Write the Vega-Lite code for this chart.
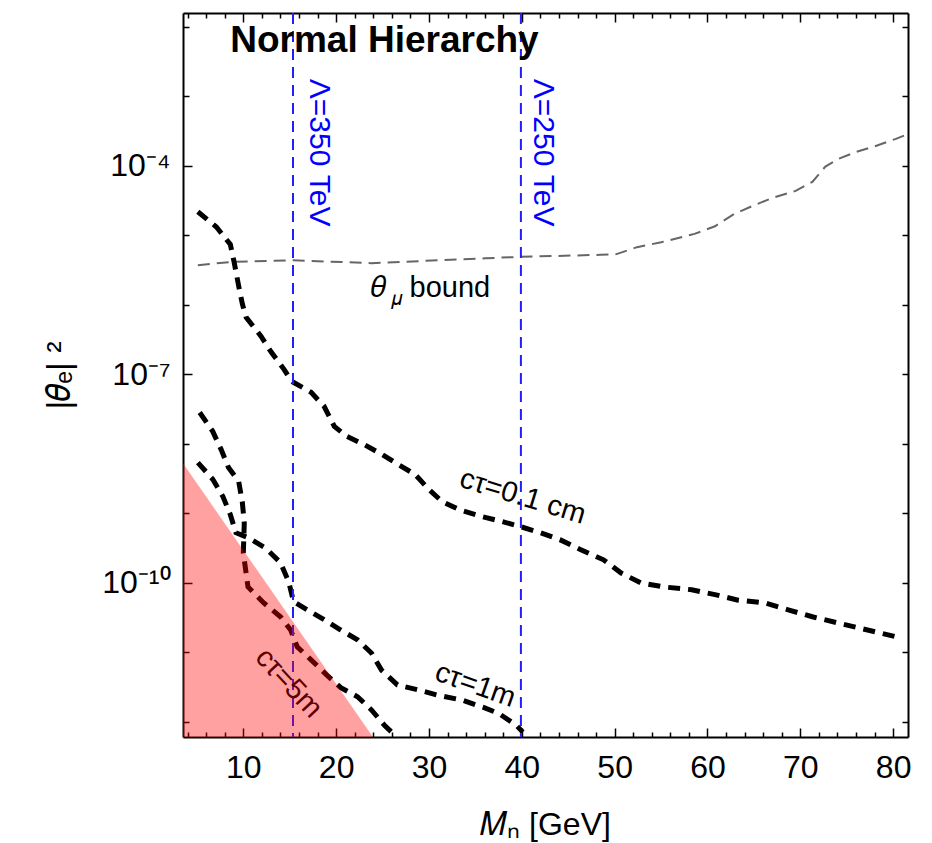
{
  "$schema": "https://vega.github.io/schema/vega-lite/v6.json",
  "autosize": {"type": "none"},
  "padding": {"left": 183, "top": 13, "right": 24, "bottom": 106},
  "width": 725,
  "height": 724,
  "background": "white",
  "config": {
    "view": {"stroke": null},
    "font": "Liberation Sans",
    "axis": {
      "domainColor": "black",
      "domainWidth": 2,
      "tickColor": "black",
      "tickWidth": 1.5,
      "grid": false,
      "labelFont": "Liberation Sans",
      "labelColor": "black",
      "titleFont": "Liberation Sans",
      "titleColor": "black",
      "titleFontWeight": "normal"
    }
  },
  "datasets": {
    "theta": [
      {"x": 5.1, "y": 3.72e-6}, {"x": 8.9, "y": 4.17e-6}, {"x": 15.4, "y": 4.37e-6},
      {"x": 23.8, "y": 3.98e-6}, {"x": 36.1, "y": 4.68e-6}, {"x": 39.8, "y": 4.90e-6},
      {"x": 48.5, "y": 5.25e-6}, {"x": 50.2, "y": 5.37e-6}, {"x": 52.4, "y": 6.76e-6},
      {"x": 55.0, "y": 7.94e-6}, {"x": 58.6, "y": 1.05e-5}, {"x": 60.8, "y": 1.35e-5},
      {"x": 62.9, "y": 2.04e-5}, {"x": 64.8, "y": 2.63e-5}, {"x": 67.0, "y": 3.47e-5},
      {"x": 69.5, "y": 4.37e-5}, {"x": 71.3, "y": 5.89e-5}, {"x": 72.7, "y": 9.77e-5},
      {"x": 74.1, "y": 1.26e-4}, {"x": 76.0, "y": 1.585e-4}, {"x": 78.2, "y": 1.95e-4},
      {"x": 80.3, "y": 2.45e-4}, {"x": 81.6, "y": 2.88e-4}
    ],
    "curves": [
      {"series": "0.1cm", "i": 1, "x": 5.1, "y": 2.19e-5},
      {"series": "0.1cm", "i": 2, "x": 7.1, "y": 1.32e-5},
      {"series": "0.1cm", "i": 3, "x": 8.6, "y": 7.41e-6},
      {"series": "0.1cm", "i": 4, "x": 9.0, "y": 4.17e-6},
      {"series": "0.1cm", "i": 5, "x": 9.5, "y": 1.86e-6},
      {"series": "0.1cm", "i": 6, "x": 9.9, "y": 1.02e-6},
      {"series": "0.1cm", "i": 7, "x": 10.3, "y": 6.61e-7},
      {"series": "0.1cm", "i": 8, "x": 11.9, "y": 3.55e-7},
      {"series": "0.1cm", "i": 9, "x": 13.0, "y": 2.09e-7},
      {"series": "0.1cm", "i": 10, "x": 14.4, "y": 1.17e-7},
      {"series": "0.1cm", "i": 11, "x": 15.2, "y": 7.94e-8},
      {"series": "0.1cm", "i": 12, "x": 17.3, "y": 5.50e-8},
      {"series": "0.1cm", "i": 13, "x": 18.7, "y": 3.47e-8},
      {"series": "0.1cm", "i": 14, "x": 19.8, "y": 1.78e-8},
      {"series": "0.1cm", "i": 15, "x": 21.1, "y": 1.29e-8},
      {"series": "0.1cm", "i": 16, "x": 23.0, "y": 9.77e-9},
      {"series": "0.1cm", "i": 17, "x": 24.9, "y": 7.08e-9},
      {"series": "0.1cm", "i": 18, "x": 26.7, "y": 5.01e-9},
      {"series": "0.1cm", "i": 19, "x": 28.5, "y": 3.63e-9},
      {"series": "0.1cm", "i": 20, "x": 30.0, "y": 2.19e-9},
      {"series": "0.1cm", "i": 21, "x": 31.4, "y": 1.48e-9},
      {"series": "0.1cm", "i": 22, "x": 33.3, "y": 1.12e-9},
      {"series": "0.1cm", "i": 23, "x": 35.8, "y": 8.91e-10},
      {"series": "0.1cm", "i": 24, "x": 37.9, "y": 7.59e-10},
      {"series": "0.1cm", "i": 25, "x": 39.8, "y": 6.46e-10},
      {"series": "0.1cm", "i": 26, "x": 42.0, "y": 5.25e-10},
      {"series": "0.1cm", "i": 27, "x": 44.1, "y": 4.17e-10},
      {"series": "0.1cm", "i": 28, "x": 46.3, "y": 3.02e-10},
      {"series": "0.1cm", "i": 29, "x": 48.8, "y": 2.14e-10},
      {"series": "0.1cm", "i": 30, "x": 50.7, "y": 1.38e-10},
      {"series": "0.1cm", "i": 31, "x": 52.8, "y": 1.0e-10},
      {"series": "0.1cm", "i": 32, "x": 55.3, "y": 8.71e-11},
      {"series": "0.1cm", "i": 33, "x": 58.3, "y": 7.94e-11},
      {"series": "0.1cm", "i": 34, "x": 60.8, "y": 6.76e-11},
      {"series": "0.1cm", "i": 35, "x": 63.3, "y": 5.62e-11},
      {"series": "0.1cm", "i": 36, "x": 66.2, "y": 5.13e-11},
      {"series": "0.1cm", "i": 37, "x": 68.7, "y": 4.07e-11},
      {"series": "0.1cm", "i": 38, "x": 71.3, "y": 3.24e-11},
      {"series": "0.1cm", "i": 39, "x": 74.1, "y": 2.63e-11},
      {"series": "0.1cm", "i": 40, "x": 76.3, "y": 2.24e-11},
      {"series": "0.1cm", "i": 41, "x": 78.5, "y": 1.91e-11},
      {"series": "0.1cm", "i": 42, "x": 80.7, "y": 1.62e-11},
      {"series": "1m", "i": 1, "x": 5.1, "y": 5.37e-9},
      {"series": "1m", "i": 2, "x": 6.7, "y": 3.09e-9},
      {"series": "1m", "i": 3, "x": 7.8, "y": 1.74e-9},
      {"series": "1m", "i": 4, "x": 8.6, "y": 9.55e-10},
      {"series": "1m", "i": 5, "x": 9.2, "y": 5.25e-10},
      {"series": "1m", "i": 6, "x": 10.5, "y": 4.47e-10},
      {"series": "1m", "i": 7, "x": 12.4, "y": 3.16e-10},
      {"series": "1m", "i": 8, "x": 14.0, "y": 1.95e-10},
      {"series": "1m", "i": 9, "x": 14.9, "y": 1.02e-10},
      {"series": "1m", "i": 10, "x": 15.4, "y": 5.37e-11},
      {"series": "1m", "i": 11, "x": 16.9, "y": 4.07e-11},
      {"series": "1m", "i": 12, "x": 18.7, "y": 2.95e-11},
      {"series": "1m", "i": 13, "x": 20.5, "y": 2.09e-11},
      {"series": "1m", "i": 14, "x": 22.3, "y": 1.51e-11},
      {"series": "1m", "i": 15, "x": 23.8, "y": 9.77e-12},
      {"series": "1m", "i": 16, "x": 24.9, "y": 5.50e-12},
      {"series": "1m", "i": 17, "x": 26.6, "y": 3.39e-12},
      {"series": "1m", "i": 18, "x": 28.8, "y": 2.88e-12},
      {"series": "1m", "i": 19, "x": 31.0, "y": 2.40e-12},
      {"series": "1m", "i": 20, "x": 33.6, "y": 2.04e-12},
      {"series": "1m", "i": 21, "x": 35.8, "y": 1.62e-12},
      {"series": "1m", "i": 22, "x": 37.5, "y": 1.32e-12},
      {"series": "1m", "i": 23, "x": 39.4, "y": 8.91e-13},
      {"series": "1m", "i": 24, "x": 40.1, "y": 7.08e-13},
      {"series": "5m", "i": 1, "x": 5.3, "y": 2.82e-8},
      {"series": "5m", "i": 2, "x": 6.7, "y": 1.51e-8},
      {"series": "5m", "i": 3, "x": 7.6, "y": 8.32e-9},
      {"series": "5m", "i": 4, "x": 8.4, "y": 4.57e-9},
      {"series": "5m", "i": 5, "x": 9.5, "y": 2.88e-9},
      {"series": "5m", "i": 6, "x": 9.9, "y": 1.41e-9},
      {"series": "5m", "i": 7, "x": 10.1, "y": 7.24e-10},
      {"series": "5m", "i": 8, "x": 10.0, "y": 2.69e-10},
      {"series": "5m", "i": 9, "x": 10.5, "y": 8.71e-11},
      {"series": "5m", "i": 10, "x": 12.2, "y": 5.13e-11},
      {"series": "5m", "i": 11, "x": 14.0, "y": 3.24e-11},
      {"series": "5m", "i": 12, "x": 15.1, "y": 2.09e-11},
      {"series": "5m", "i": 13, "x": 15.8, "y": 1.20e-11},
      {"series": "5m", "i": 14, "x": 17.3, "y": 7.76e-12},
      {"series": "5m", "i": 15, "x": 19.0, "y": 4.68e-12},
      {"series": "5m", "i": 16, "x": 20.5, "y": 3.09e-12},
      {"series": "5m", "i": 17, "x": 22.3, "y": 2.29e-12},
      {"series": "5m", "i": 18, "x": 23.8, "y": 1.48e-12},
      {"series": "5m", "i": 19, "x": 25.2, "y": 8.91e-13},
      {"series": "5m", "i": 20, "x": 26.3, "y": 6.46e-13}
    ],
    "lambda": [
      {"x": 15.35, "label": "Λ=350 TeV", "ly": 1.55e-4, "lx": 18.15},
      {"x": 39.9, "label": "Λ=250 TeV", "ly": 1.55e-4, "lx": 42.3}
    ],
    "ctau": [
      {"label": "cτ=0.1 cm", "x": 40.1, "y": 1.74e-9, "angle": 17},
      {"label": "cτ=1m", "x": 35.0, "y": 3.39e-12, "angle": 19.5},
      {"label": "cτ=5m", "x": 14.9, "y": 3.63e-12, "angle": 47}
    ],
    "region": [
      {"x": 3.5, "y": 5.25e-9, "y2": 6.03e-13},
      {"x": 23.96, "y": 6.03e-13, "y2": 6.03e-13}
    ]
  },
  "resolve": {"axis": {"x": "independent", "y": "independent"}},
  "layer": [
    {
      "data": {"name": "theta"},
      "mark": {"type": "line", "color": "#666666", "strokeWidth": 2, "strokeDash": [12, 7], "clip": true},
      "encoding": {
        "x": {
          "field": "x", "type": "quantitative",
          "scale": {"domain": [3.5, 81.6], "nice": false, "zero": false},
          "axis": {
            "orient": "bottom",
            "values": [4, 6, 8, 10, 12, 14, 16, 18, 20, 22, 24, 26, 28, 30, 32, 34, 36, 38, 40, 42, 44, 46, 48, 50, 52, 54, 56, 58, 60, 62, 64, 66, 68, 70, 72, 74, 76, 78, 80],
            "labelExpr": "datum.value % 10 === 0 ? datum.value : ''",
            "tickSize": {"condition": {"test": "datum.value % 10 === 0", "value": -9}, "value": -5},
            "labelFontSize": 32,
            "labelPadding": 24,
            "labelFlush": false,
            "labelOverlap": false,
            "title": "𝑀ₙ [GeV]",
            "titleFontSize": 32,
            "titleX": 362,
            "titleY": 97,
            "titleBaseline": "alphabetic",
            "titleAlign": "center"
          }
        },
        "y": {
          "field": "y", "type": "quantitative",
          "scale": {"type": "log", "domain": [6.03e-13, 0.01585], "nice": false},
          "axis": {
            "orient": "left",
            "values": [1e-12, 1e-11, 1e-10, 1e-9, 1e-8, 1e-7, 1e-6, 1e-5, 1e-4, 1e-3, 1e-2],
            "labelExpr": "datum.value > 5e-5 && datum.value < 2e-4 ? '10⁻⁴' : datum.value > 5e-8 && datum.value < 2e-7 ? '10⁻⁷' : datum.value > 5e-11 && datum.value < 2e-10 ? '10⁻¹⁰' : ''",
            "tickSize": {"condition": {"test": "(datum.value > 5e-5 && datum.value < 2e-4) || (datum.value > 5e-8 && datum.value < 2e-7) || (datum.value > 5e-11 && datum.value < 2e-10)", "value": -9}, "value": -6},
            "labelFontSize": 32,
            "labelPadding": 22,
            "labelOverlap": false,
            "labelFlush": false,
            "title": "|𝜃ₑ| ²",
            "titleFontSize": 34,
            "titleAngle": -90,
            "titleX": -114,
            "titleY": 362,
            "titleBaseline": "alphabetic",
            "titleAlign": "center"
          }
        }
      }
    },
    {
      "data": {"name": "curves"},
      "mark": {"type": "line", "color": "black", "strokeWidth": 5, "strokeDash": [12, 8], "strokeCap": "butt", "clip": true},
      "encoding": {
        "x": {
          "field": "x", "type": "quantitative",
          "axis": {
            "orient": "top",
            "values": [4, 6, 8, 10, 12, 14, 16, 18, 20, 22, 24, 26, 28, 30, 32, 34, 36, 38, 40, 42, 44, 46, 48, 50, 52, 54, 56, 58, 60, 62, 64, 66, 68, 70, 72, 74, 76, 78, 80],
            "labels": false,
            "title": null,
            "tickSize": {"condition": {"test": "datum.value % 10 === 0", "value": -9}, "value": -5}
          }
        },
        "y": {
          "field": "y", "type": "quantitative",
          "axis": {
            "orient": "right",
            "values": [1e-12, 1e-11, 1e-10, 1e-9, 1e-8, 1e-7, 1e-6, 1e-5, 1e-4, 1e-3, 1e-2],
            "labels": false,
            "title": null,
            "tickSize": -6
          }
        },
        "detail": {"field": "series"},
        "order": {"field": "i"}
      }
    },
    {
      "data": {"name": "lambda"},
      "mark": {"type": "rule", "color": "#2020ff", "strokeWidth": 2, "strokeDash": [11, 7]},
      "encoding": {
        "x": {"field": "x", "type": "quantitative", "axis": null}
      }
    },
    {
      "data": {"name": "lambda"},
      "mark": {"type": "text", "angle": 90, "align": "center", "baseline": "middle", "fontSize": 30, "color": "#0000ff", "font": "Liberation Sans"},
      "encoding": {
        "x": {"field": "lx", "type": "quantitative", "axis": null},
        "y": {"field": "ly", "type": "quantitative", "axis": null},
        "text": {"field": "label"}
      }
    },
    {
      "data": {"values": [{"label": "Normal Hierarchy", "x": 25.2, "y": 6.31e-3}]},
      "mark": {"type": "text", "align": "center", "baseline": "middle", "fontSize": 37, "fontWeight": "bold", "color": "black", "font": "Liberation Sans"},
      "encoding": {
        "x": {"field": "x", "type": "quantitative", "axis": null},
        "y": {"field": "y", "type": "quantitative", "axis": null},
        "text": {"field": "label"}
      }
    },
    {
      "data": {"values": [
        {"label": "𝜃", "x": 23.7, "y": 1.29e-6, "size": 30},
        {"label": "𝜇", "x": 25.9, "y": 1.0e-6, "size": 20},
        {"label": "bound", "x": 27.9, "y": 1.29e-6, "size": 29}
      ]},
      "mark": {"type": "text", "align": "left", "baseline": "alphabetic", "color": "black", "font": "Liberation Sans"},
      "encoding": {
        "x": {"field": "x", "type": "quantitative", "axis": null},
        "y": {"field": "y", "type": "quantitative", "axis": null},
        "text": {"field": "label"},
        "size": {"field": "size", "type": "quantitative", "scale": null}
      }
    },
    {
      "data": {"name": "ctau"},
      "mark": {"type": "text", "align": "center", "baseline": "middle", "fontSize": 29, "color": "black", "font": "Liberation Sans"},
      "encoding": {
        "x": {"field": "x", "type": "quantitative", "axis": null},
        "y": {"field": "y", "type": "quantitative", "axis": null},
        "text": {"field": "label"},
        "angle": {"field": "angle", "type": "quantitative", "scale": null}
      }
    },
    {
      "data": {"name": "region"},
      "mark": {"type": "area", "color": "#ff0000", "opacity": 0.37, "clip": true},
      "encoding": {
        "x": {"field": "x", "type": "quantitative", "axis": null},
        "y": {"field": "y", "type": "quantitative", "axis": null},
        "y2": {"field": "y2"}
      }
    }
  ]
}
